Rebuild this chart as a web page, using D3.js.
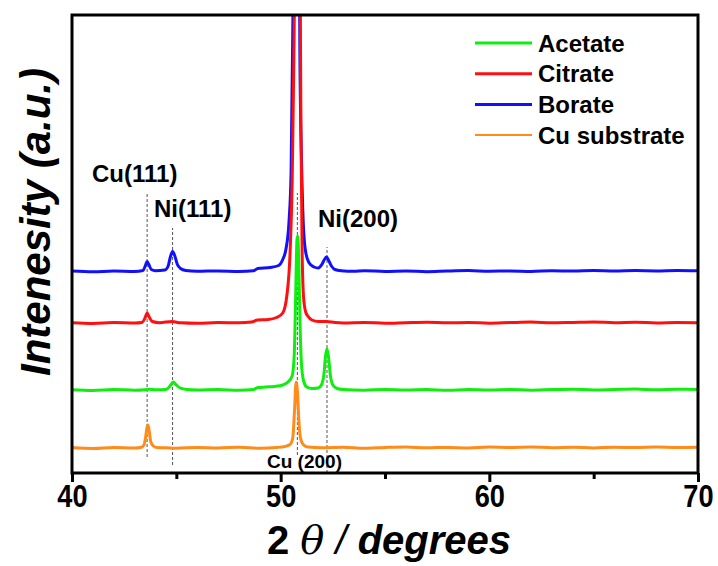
<!DOCTYPE html>
<html>
<head>
<meta charset="utf-8">
<script src="https://cdn.jsdelivr.net/npm/d3@7"></script>
<style>
  body { margin: 0; background: #fff; }
  svg { display: block; font-family: "Liberation Sans", Arial, sans-serif; }
</style>
</head>
<body>
<svg id="chart" width="718" height="566"></svg>
<script>
// series names, colours and vertical offsets (a.u.)
const seriesNames = ["Acetate", "Citrate", "Borate", "Cu substrate"];
const seriesColors = ["#10ee10", "#ff1010", "#1010ff", "#ff8c1a"];
const seriesOffsets = [83, 150, 201.5, 25];

// [2theta, intensity]
const acetatePts = [[40,0.3],[41,-0.4],[42,0.5],[43,-0.2],[43.5,0.3],[43.7,0.8],[44,0.2],[44.5,0.6],[44.7,4],[44.85,8],[45,5],[45.2,1.8],[45.5,0.6],[46,0.1],[47,0.5],[48,-0.3],[48.7,0.4],[48.9,2.5],[49.3,3],[49.7,3.5],[50.1,5],[50.35,8],[50.55,14],[50.65,35],[50.72,95],[50.78,150],[50.82,154],[50.87,125],[50.93,65],[51,25],[51.1,9],[51.25,3],[51.5,1.5],[51.8,2],[51.95,5],[52.07,15],[52.15,34],[52.22,41],[52.3,32],[52.38,15],[52.5,5],[52.7,1.5],[53,0.5],[54,-0.2],[55,0.6],[56,0],[57,0.4],[58,-0.3],[59,0.5],[60,0.1],[61,0.6],[62,-0.2],[63,0.4],[64,0.8],[65,0.1],[66,0.5],[67,0.9],[68,0.3],[69,0.7],[70,0.6]];
const citratePts = [[40,0.2],[41,-0.5],[42,0.4],[43,0],[43.35,0.5],[43.5,5],[43.6,10],[43.7,6],[43.85,1.5],[44.2,0.3],[44.8,1.5],[45.2,0.2],[46,-0.3],[47,0.4],[48,0.2],[48.6,1],[48.9,3],[49.4,3.5],[49.8,5.5],[50.1,10],[50.3,28],[50.45,70],[50.55,140],[50.63,260],[50.7,420],[50.78,800],[50.85,700],[50.92,400],[50.97,200],[51.03,70],[51.1,25],[51.2,11],[51.3,7],[51.5,3],[51.8,1.5],[52.2,1.5],[52.6,0.5],[53,0.1],[54,0.6],[55,-0.3],[56,0.3],[57,0.8],[58,0.2],[59,0.5],[60,-0.2],[61,0.4],[62,0.9],[63,0.2],[64,0.6],[65,1],[66,0.3],[67,0.7],[68,0.1],[69,0.5],[70,0.3]];
const boratePts = [[40,0.4],[41,-0.3],[42,0.5],[43,0],[43.4,1],[43.52,6],[43.6,10],[43.68,7],[43.8,2],[44,0.8],[44.45,1.5],[44.6,5],[44.72,15],[44.82,20],[44.92,16],[45.05,7],[45.2,3],[45.45,1],[46,0.2],[47,0.6],[48,0.1],[48.7,0.8],[48.9,3],[49.5,4],[49.9,6],[50.1,12],[50.25,22],[50.4,50],[50.5,100],[50.58,240],[50.64,400],[50.72,900],[50.8,1000],[50.86,500],[50.92,220],[51,110],[51.08,50],[51.18,22],[51.35,9],[51.6,4.5],[51.8,3.5],[51.97,7],[52.1,12],[52.2,14.5],[52.3,11],[52.45,5],[52.6,2],[52.9,0.8],[53.5,0.2],[54,0.7],[55,0.1],[56,0.6],[57,-0.2],[58,0.5],[59,0.9],[60,0.3],[61,0.6],[62,0.1],[63,0.8],[64,0.4],[65,1],[66,0.5],[67,0.9],[68,0.6],[69,1.1],[70,0.8]];
const cuPts = [[40,0.5],[41,-0.4],[42,0.6],[43,0],[43.3,0.5],[43.45,3],[43.53,11],[43.59,20],[43.64,23],[43.7,17],[43.78,6],[43.9,2],[44.05,0.5],[44.5,0.2],[45,-0.3],[46,0.6],[47,0.1],[48,0.7],[49,-0.2],[49.8,0.5],[50.2,1.5],[50.45,3.5],[50.58,10],[50.66,36],[50.74,66],[50.8,58],[50.87,28],[50.95,10],[51.1,3],[51.3,1],[52,0.2],[53,0.8],[54,-0.3],[55,0.5],[56,1],[57,0.2],[58,0.6],[59,0],[60,0.9],[61,0.4],[62,1.1],[63,0.3],[64,0.7],[65,0.1],[66,0.8],[67,0.4],[68,1],[69,0.5],[70,0.7]];
const seriesPts = [acetatePts, citratePts, boratePts, cuPts];

// reference peaks: position, label
const refPeaks = [43.6, 44.82, 50.8, 52.22];
const refLabels = ["Cu(111)", "Ni(111)", "Cu (200)", "Ni(200)"];
// dashed line spans in intensity units
const refSpans = [[16, 281], [8, 245], [18, 280], [0, 226]];

const xTicks = [40, 50, 60, 70];
const xMinor = [45, 55, 65];

const margin = { left: 72, right: 20, top: 15, bottom: 93 };
const W = 718, H = 566;
const svg = d3.select("#chart");

const x = d3.scaleLinear().domain([40, 70]).range([margin.left, W - margin.right]);
const y = d3.scaleLinear().domain([0, 458]).range([H - margin.bottom, margin.top]);

svg.append("defs").append("clipPath").attr("id", "plot")
  .append("rect")
  .attr("x", x(40)).attr("y", y(458))
  .attr("width", x(70) - x(40)).attr("height", y(0) - y(458));

// dashed reference lines
svg.append("g")
  .selectAll("line")
  .data(refPeaks)
  .enter().append("line")
  .attr("x1", d => x(d)).attr("x2", d => x(d))
  .attr("y1", (d, i) => y(refSpans[i][0]))
  .attr("y2", (d, i) => y(refSpans[i][1]))
  .attr("stroke", "#555")
  .attr("stroke-width", 1)
  .attr("stroke-dasharray", "3,2");

// patterns
const line = d3.line()
  .x(d => x(d[0]))
  .curve(d3.curveMonotoneX);

const drawOrder = [2, 1, 0, 3];
svg.append("g").attr("clip-path", "url(#plot)")
  .selectAll("path")
  .data(drawOrder)
  .enter().append("path")
  .attr("fill", "none")
  .attr("stroke", i => seriesColors[i])
  .attr("stroke-width", 3)
  .attr("stroke-linejoin", "round")
  .attr("d", i => line.y(d => y(d[1] + seriesOffsets[i]))(seriesPts[i]));

// peak labels
const labelPos = [
  { x: 92, y: 182, size: 24 },
  { x: 154, y: 217, size: 24 },
  { x: 267, y: 468, size: 19 },
  { x: 318, y: 227, size: 24 }
];
svg.append("g")
  .selectAll("text")
  .data(refLabels)
  .enter().append("text")
  .attr("x", (d, i) => labelPos[i].x)
  .attr("y", (d, i) => labelPos[i].y)
  .attr("font-size", (d, i) => labelPos[i].size)
  .attr("font-weight", "bold")
  .text(d => d);

// frame
svg.append("rect")
  .attr("x", x(40)).attr("y", y(458))
  .attr("width", x(70) - x(40)).attr("height", y(0) - y(458))
  .attr("fill", "none").attr("stroke", "#000").attr("stroke-width", 3);

// x axis
const xAxis = svg.append("g")
  .attr("transform", `translate(0,${y(0)})`)
  .call(d3.axisBottom(x).tickValues(xTicks).tickSize(9).tickSizeOuter(0).tickFormat(d3.format("d")));
xAxis.select(".domain").remove();
xAxis.selectAll(".tick line").attr("stroke-width", 3);
xAxis.selectAll(".tick text")
  .attr("font-size", 32)
  .attr("font-weight", "bold")
  .attr("font-family", "Liberation Sans, Arial, sans-serif")
  .attr("x", 0)
  .attr("y", 34)
  .attr("dy", 0)
  .attr("transform", "scale(0.85,1)");
const minorAxis = svg.append("g")
  .attr("transform", `translate(0,${y(0)})`)
  .call(d3.axisBottom(x).tickValues(xMinor).tickSize(6).tickFormat(""));
minorAxis.select(".domain").remove();
minorAxis.selectAll(".tick line").attr("stroke-width", 3);

// axis titles
const xt = svg.append("text")
  .attr("transform", `translate(${(268 + 510) / 2},554)`)
  .attr("text-anchor", "middle")
  .attr("font-size", 40);
xt.append("tspan").attr("font-weight", "bold").text("2 ");
xt.append("tspan").attr("font-style", "italic").attr("font-family", "DejaVu Serif, serif").text("θ");
xt.append("tspan").attr("font-style", "italic").text(" / ");
xt.append("tspan").attr("font-weight", "bold").attr("font-style", "italic").text("degrees");

svg.append("text")
  .attr("transform", "translate(50,222) rotate(-90)")
  .attr("text-anchor", "middle")
  .attr("font-size", 42)
  .attr("font-weight", "bold")
  .attr("font-style", "italic")
  .text("Intenesity (a.u.)");

// legend
const legend = svg.append("g")
  .selectAll("g")
  .data(seriesNames)
  .enter().append("g")
  .attr("transform", (d, i) => `translate(475,${43 + i * 30.7})`);
legend.append("line")
  .attr("x1", 0).attr("x2", 57)
  .attr("stroke", (d, i) => seriesColors[i])
  .attr("stroke-width", (d, i) => i === 3 ? 2 : 3);
legend.append("text")
  .attr("x", 63)
  .attr("dy", "0.36em")
  .attr("font-size", 24)
  .attr("font-weight", "bold")
  .text(d => d);
</script>
</body>
</html>
